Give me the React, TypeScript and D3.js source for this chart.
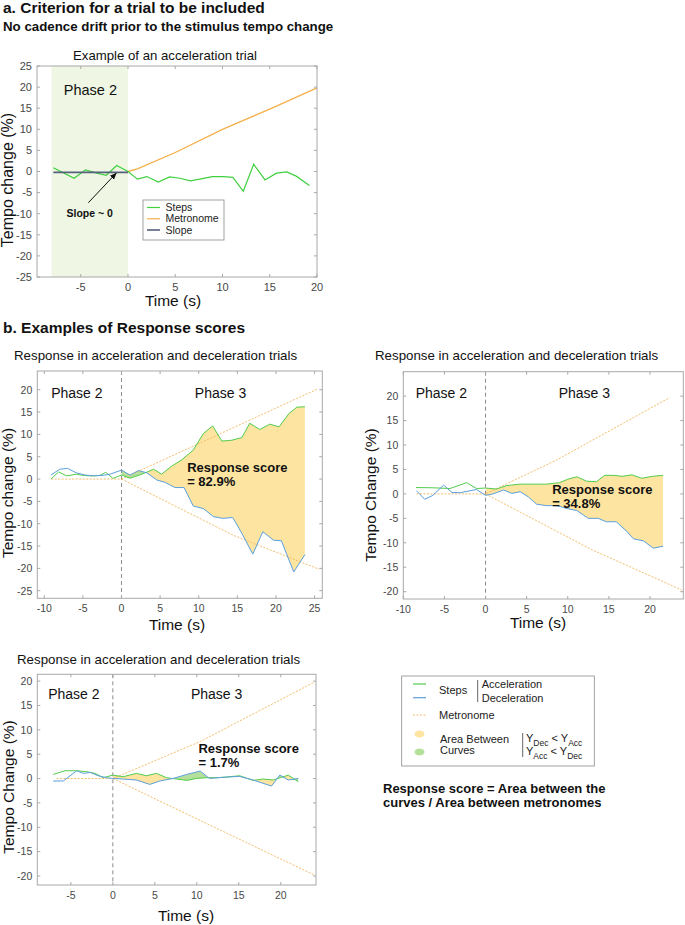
import * as d3 from 'd3'

type Pt = [number, number]

const FONT = '"Liberation Sans", Arial, Helvetica, sans-serif'

// ---- panel a: example of an acceleration trial ----
const topSteps: Pt[] = [
  [-7.9, 0.9], [-5.7, -1.6], [-4.5, 0.4], [-3.3, -0.4], [-2.3, -0.9], [-1.2, 1.4], [0, 0],
  [1.0, -1.8], [2.0, -1.2], [3.2, -2.5], [4.4, -1.3], [5.5, -1.6], [6.6, -2.2], [7.6, -1.8],
  [8.9, -1.2], [10.1, -1.2], [11.1, -1.4], [12.2, -4.7], [13.3, 1.7], [14.5, -2.0],
  [15.7, -0.4], [16.8, -0.1], [17.8, -1.1], [19.2, -3.3],
]
const topMetronome: Pt[] = [[0, 0], [1, 0.6], [5, 4.5], [10, 10], [15, 14.8], [20, 19.8]]
const topSlope: Pt[] = [[-7.9, -0.2], [0, -0.2]]
const topPhase2: [number, number] = [-8.1, 0]
const topXTicks = [-5, 0, 5, 10, 15, 20]
const topYTicks = [25, 20, 15, 10, 5, 0, -5, -10, -15, -20, -25]

// ---- panel b1: response score 82.9% ----
const b1Acc: Pt[] = [
  [-9.14, 0], [-8.15, 1.6], [-7.07, 0.7], [-5.86, 1.1], [-4.91, 0.8], [-3.62, 0.7], [-2.84, 0.8],
  [-2.03, 1.5], [-1.12, 0.15], [0, 0.9], [1.12, 0.2], [2.33, 0.9], [3.36, 1.6], [4.14, 2.2],
  [5.2, 1.1], [6.5, 2.9], [7.8, 4.3], [9.3, 6.5], [10.6, 10.2], [11.8, 11.9], [13.0, 8.5],
  [14.3, 8.7], [15.6, 9.3], [16.6, 12.5], [17.9, 11.1], [19.2, 12.3], [20.4, 11.7],
  [21.7, 14.7], [22.7, 16.1], [23.75, 16.2],
]
const b1Dec: Pt[] = [
  [-9.14, 0.9], [-8.0, 2.2], [-6.98, 2.4], [-5.86, 1.4], [-4.7, 0.9], [-3.62, 0.75], [-2.54, 0.8],
  [-1.47, 1.1], [0, 2.0], [1.12, 0.9], [2.2, 1.9], [3.28, 1.4], [4.57, -0.2], [5.65, -0.75],
  [6.94, -1.9], [8.1, -1.9], [9.3, -6.05], [10.6, -6.6], [11.9, -8.4], [13.1, -8.8],
  [14.4, -8.6], [15.6, -12.2], [17.0, -16.8], [18.3, -11.8], [19.7, -13.7], [20.7, -13.8],
  [22.3, -20.8], [23.75, -16.9],
]
const b1MetUp: Pt[] = [[-9.1, 0], [0, 0], [25.3, 20.1]]
const b1MetDown: Pt[] = [[0, 0], [14.5, -12.6], [25.6, -20.2]]
const b1XTicks = [-10, -5, 0, 5, 10, 15, 20, 25]
const b1YTicks = [20, 15, 10, 5, 0, -5, -10, -15, -20, -25]

// ---- panel b2: response score 34.8% ----
const b2Acc: Pt[] = [
  [-8.46, 1.3], [-6.36, 1.25], [-4.33, 1.1], [-2.3, 2.3], [-1.09, 1.1], [0, 1.2], [1.35, 1.0],
  [2.55, 1.7], [4.2, 2.0], [5.8, 2.0], [7.4, 2.0], [9.0, 2.3], [10.0, 3.0], [11.1, 3.5],
  [12.3, 2.6], [13.5, 2.5], [14.5, 3.8], [15.6, 3.8], [16.6, 3.6], [17.8, 3.9], [19.0, 3.2],
  [20.3, 3.6], [21.6, 3.8],
]
const b2Dec: Pt[] = [
  [-8.4, 0.65], [-7.4, -1.1], [-6.4, -0.3], [-5.1, 1.8], [-4.1, 0.3], [-3.1, 0.24], [-1.1, 0.9],
  [0, -0.3], [0.9, 0], [2.2, 0.8], [3.2, 0.1], [4.2, 0.45], [5.2, -0.6], [6.2, -2.1],
  [7.4, -2.4], [8.7, -2.4], [9.9, -3.0], [11.1, -3.4], [12.5, -5.0], [13.7, -5.0],
  [14.7, -5.7], [15.9, -5.7], [17.2, -7.7], [18.0, -9.2], [19.2, -9.6], [20.4, -11.1],
  [21.6, -10.7],
]
const b2MetUp: Pt[] = [[-8.4, 0], [0, 0], [8.6, 6.9], [22.4, 19.7]]
const b2MetDown: Pt[] = [[0, 0], [12.9, -11.4], [23.85, -19.65]]
const b2XTicks = [-10, -5, 0, 5, 10, 15, 20]
const b2YTicks = [20, 15, 10, 5, 0, -5, -10, -15, -20]

// ---- panel b3: response score 1.7% ----
const b3Acc: Pt[] = [
  [-7.1, 0.85], [-5.7, 1.6], [-4.3, 1.6], [-3.1, 1.4], [-2.1, 1.05], [-1.15, 0.17], [0, 0.7],
  [1.23, 0.38], [2.8, 1.06], [4.0, 0.58], [5.2, 1.06], [6.4, 0.17], [7.6, -0.1], [8.8, -0.38],
  [10.0, 0.03], [11.15, 0.17], [12.3, 0.17], [13.5, 0.3], [15.1, 0.58], [16.7, -0.38],
  [17.9, -0.1], [19.1, -0.3], [20.0, 0.2], [20.9, 0.7], [22.1, -0.65],
]
const b3Dec: Pt[] = [
  [-7.1, -0.5], [-5.9, -0.5], [-4.3, 1.6], [-3.5, 1.06], [-2.7, 1.26], [-1.75, 0.58],
  [-0.75, 0.17], [0, 0.03], [1.23, -0.1], [2.8, -0.3], [4.4, -1.2], [5.6, -0.5], [7.2, 0.03],
  [8.8, 0.85], [10.4, 1.54], [11.5, 0.03], [13.5, 0.3], [15.1, 0.44], [16.7, -0.3],
  [18.9, -1.54], [19.9, 0.72], [20.9, -0.3], [22.1, 0.03],
]
const b3MetUp: Pt[] = [[-6.7, 0], [0, 0], [10.4, 7.6], [23.9, 19.7]]
const b3MetDown: Pt[] = [[0, 0], [10.4, -8.6], [24.0, -19.8]]
const b3XTicks = [-5, 0, 5, 10, 15, 20]
const b3YTicks = [20, 15, 10, 5, 0, -5, -10, -15, -20]

const C = {
  axis: '#a8a8a8',
  tick: '#484848',
  acc: '#52cc4c',
  dec: '#5d9fdc',
  met: '#f5b04a',
  metDash: '#f4bd6a',
  fillY: '#fde4a0',
  fillG: '#b4e09c',
  shade: '#eff6e3',
  slope: '#56617c',
}

type Box = { x0: number; x1: number; y0: number; y1: number }
type Scale = d3.ScaleLinear<number, number>

function Frame({ box, x, y, xTicks, yTicks, fs = 10.5 }: {
  box: Box; x: Scale; y: Scale; xTicks: number[]; yTicks: number[]; fs?: number
}) {
  const tl = 3
  return (
    <g>
      <rect x={box.x0} y={box.y0} width={box.x1 - box.x0} height={box.y1 - box.y0}
        fill="none" stroke={C.axis} strokeWidth={1} />
      {xTicks.map((t) => (
        <g key={'x' + t}>
          <line x1={x(t)} x2={x(t)} y1={box.y1} y2={box.y1 - tl} stroke={C.axis} />
          <line x1={x(t)} x2={x(t)} y1={box.y0} y2={box.y0 + tl} stroke={C.axis} />
          <text x={x(t)} y={box.y1 + 14} textAnchor="middle" fontSize={fs} fill={C.tick}>{t}</text>
        </g>
      ))}
      {yTicks.map((t) => (
        <g key={'y' + t}>
          <line x1={box.x0} x2={box.x0 + tl} y1={y(t)} y2={y(t)} stroke={C.axis} />
          <line x1={box.x1} x2={box.x1 - tl} y1={y(t)} y2={y(t)} stroke={C.axis} />
          <text x={box.x0 - 5} y={y(t) + 3.8} textAnchor="end" fontSize={fs} fill={C.tick}>{t}</text>
        </g>
      ))}
    </g>
  )
}

function TopPanel() {
  const box: Box = { x0: 37, x1: 317, y0: 66, y1: 277 }
  const x = d3.scaleLinear().domain([-9.63, 20]).range([box.x0, box.x1])
  const y = d3.scaleLinear().domain([-25, 25]).range([box.y1, box.y0])
  const line = d3.line<Pt>().x((d) => x(d[0])).y((d) => y(d[1]))
  return (
    <g>
      <rect x={x(topPhase2[0])} y={box.y0} width={x(topPhase2[1]) - x(topPhase2[0])}
        height={box.y1 - box.y0} fill={C.shade} />
      <path d={line(topMetronome) ?? ''} fill="none" stroke={C.met} strokeWidth={1.3} />
      <path d={line(topSteps) ?? ''} fill="none" stroke="#3fd03f" strokeWidth={1.2} />
      <path d={line(topSlope) ?? ''} fill="none" stroke={C.slope} strokeWidth={1.6} />
      <line x1={x(-4.2)} y1={y(-7.4)} x2={x(-1.25)} y2={y(-0.4)} stroke="#111" strokeWidth={1}
        markerEnd="url(#arrowhead)" />
      <text x={x(-4.05)} y={y(-10.7)} textAnchor="middle" fontSize={10.5} fontWeight="bold" fill="#111">
        Slope ~ 0
      </text>
      <Frame box={box} x={x} y={y} xTicks={topXTicks} yTicks={topYTicks} fs={11} />
      <text x={x(-6.8)} y={y(18.2)} fontSize={14.5} fill="#111">Phase 2</text>
      <text x={165} y={60} textAnchor="middle" fontSize={13.2} fill="#111">Example of an acceleration trial</text>
      <text transform="translate(13,180) rotate(-90)" textAnchor="middle" fontSize={16} fill="#111">
        Tempo change (%)
      </text>
      <text x={173} y={305.5} textAnchor="middle" fontSize={15.5} fill="#111">Time (s)</text>
      {/* legend */}
      <rect x={143} y={200} width={81} height={40} fill="#fff" stroke="#8a8a8a" strokeWidth={0.8} />
      <line x1={147} x2={160} y1={207.5} y2={207.5} stroke="#3fd03f" strokeWidth={1.2} />
      <line x1={147} x2={160} y1={218.8} y2={218.8} stroke={C.met} strokeWidth={1.2} />
      <line x1={147} x2={160} y1={230} y2={230} stroke={C.slope} strokeWidth={1.6} />
      <text x={165.5} y={211} fontSize={10.5} fill="#222">Steps</text>
      <text x={165.5} y={222.3} fontSize={10.5} fill="#222">Metronome</text>
      <text x={165.5} y={233.5} fontSize={10.5} fill="#222">Slope</text>
    </g>
  )
}

type RespProps = {
  id: string
  box: Box
  xDomain: [number, number]
  yDomain: [number, number]
  xTicks: number[]
  yTicks: number[]
  acc: Pt[]
  dec: Pt[]
  metUp: Pt[]
  metDown: Pt[]
  title: [number, number]
  yLabel: string
  yLabelPos: [number, number]
  xLabelPos: [number, number]
  phase2: Pt
  phase3: Pt
  score: string
  scorePos: Pt
}

function ResponsePanel(p: RespProps) {
  const { box } = p
  const x = d3.scaleLinear().domain(p.xDomain).range([box.x0, box.x1])
  const y = d3.scaleLinear().domain(p.yDomain).range([box.y1, box.y0])
  const line = d3.line<Pt>().x((d) => x(d[0])).y((d) => y(d[1]))
  const accR = p.acc.filter((d) => d[0] >= 0)
  const decR = p.dec.filter((d) => d[0] >= 0)
  // polygon between the two step curves, split by colour with clip paths on the deceleration curve
  const between = (line([...accR, ...decR.slice().reverse()]) ?? '') + 'Z'
  const aboveDec = d3.area<Pt>().x((d) => x(d[0])).y0(box.y0 - 50).y1((d) => y(d[1]))(decR) ?? ''
  const belowDec = d3.area<Pt>().x((d) => x(d[0])).y0((d) => y(d[1])).y1(box.y1 + 50)(decR) ?? ''
  return (
    <g>
      <defs>
        <clipPath id={p.id + '-above'}><path d={aboveDec} /></clipPath>
        <clipPath id={p.id + '-below'}><path d={belowDec} /></clipPath>
      </defs>
      <path d={between} fill={C.fillY} clipPath={`url(#${p.id}-above)`} />
      <path d={between} fill={C.fillG} clipPath={`url(#${p.id}-below)`} />
      <line x1={x(0)} x2={x(0)} y1={box.y0} y2={box.y1} stroke="#8c8c8c" strokeDasharray="4,3" />
      <path d={line(p.metUp) ?? ''} fill="none" stroke={C.metDash} strokeWidth={1} strokeDasharray="2,1.5" />
      <path d={line(p.metDown) ?? ''} fill="none" stroke={C.metDash} strokeWidth={1} strokeDasharray="2,1.5" />
      <path d={line(p.acc) ?? ''} fill="none" stroke={C.acc} strokeWidth={1} />
      <path d={line(p.dec) ?? ''} fill="none" stroke={C.dec} strokeWidth={1} />
      <Frame box={box} x={x} y={y} xTicks={p.xTicks} yTicks={p.yTicks} />
      <text x={x(p.phase2[0])} y={y(p.phase2[1])} fontSize={14} fill="#111">Phase 2</text>
      <text x={x(p.phase3[0])} y={y(p.phase3[1])} fontSize={14} fill="#111">Phase 3</text>
      <text x={x(p.scorePos[0])} y={y(p.scorePos[1])} fontSize={13} fontWeight="bold" fill="#111">
        <tspan>Response score</tspan>
        <tspan x={x(p.scorePos[0])} dy={14}>{'= ' + p.score}</tspan>
      </text>
      <text x={p.title[0]} y={p.title[1]} fontSize={13.3} fill="#111">
        Response in acceleration and deceleration trials
      </text>
      <text transform={`translate(${p.yLabelPos[0]},${p.yLabelPos[1]}) rotate(-90)`} textAnchor="middle"
        fontSize={15.5} fill="#111">{p.yLabel}</text>
      <text x={p.xLabelPos[0]} y={p.xLabelPos[1]} textAnchor="middle" fontSize={15.5} fill="#111">Time (s)</text>
    </g>
  )
}

function Legend() {
  const sub = { fontSize: 8.5 }
  return (
    <g fontSize={11} fill="#222">
      <rect x={401.7} y={676} width={192.6} height={90} fill="#fff" stroke="#8a8a8a" strokeWidth={0.8} />
      <line x1={413} x2={426} y1={684} y2={684} stroke={C.acc} strokeWidth={1.2} />
      <line x1={413} x2={426} y1={697.7} y2={697.7} stroke={C.dec} strokeWidth={1.2} />
      <text x={439} y={694}>Steps</text>
      <line x1={477.7} x2={477.7} y1={680} y2={702} stroke="#555" strokeWidth={0.9} />
      <text x={481.7} y={688}>Acceleration</text>
      <text x={481.7} y={702}>Deceleration</text>
      <line x1={413} x2={426} y1={715} y2={715} stroke={C.metDash} strokeDasharray="2,1.5" />
      <text x={439} y={719}>Metronome</text>
      <ellipse cx={419.5} cy={734} rx={5} ry={3.5} fill={C.fillY} />
      <ellipse cx={419.5} cy={752} rx={5} ry={3.5} fill={C.fillG} />
      <text x={440} y={743}>Area Between</text>
      <text x={440} y={754}>Curves</text>
      <line x1={522.7} x2={522.7} y1={733} y2={757} stroke="#555" strokeWidth={0.9} />
      <text x={526} y={742}>
        Y<tspan dy={3.5} {...sub}>Dec</tspan><tspan dy={-3.5}> &lt; Y</tspan><tspan dy={3.5} {...sub}>Acc</tspan>
      </text>
      <text x={526} y={755}>
        Y<tspan dy={3.5} {...sub}>Acc</tspan><tspan dy={-3.5}> &lt; Y</tspan><tspan dy={3.5} {...sub}>Dec</tspan>
      </text>
    </g>
  )
}

export default function App() {
  return (
    <svg width={685} height={925} style={{ position: 'absolute', left: 0, top: 0, background: '#fff' }}
      fontFamily={FONT}>
      <defs>
        <marker id="arrowhead" viewBox="0 0 10 10" refX={9} refY={5} markerWidth={7} markerHeight={7}
          orient="auto-start-reverse">
          <path d="M0,1 L10,5 L0,9 z" fill="#111" />
        </marker>
      </defs>
      <rect width={685} height={925} fill="#fff" />
      <text x={3} y={13} fontSize={15.5} fontWeight="bold" fill="#111">a. Criterion for a trial to be included</text>
      <text x={3} y={30.5} fontSize={13.3} fontWeight="bold" fill="#111">
        No cadence drift prior to the stimulus tempo change
      </text>
      <TopPanel />
      <text x={3} y={333} fontSize={15.5} fontWeight="bold" fill="#111">b. Examples of Response scores</text>
      <ResponsePanel
        id="b1"
        box={{ x0: 37.3, x1: 322.3, y0: 371, y1: 598.3 }}
        xDomain={[-10.9, 26]}
        yDomain={[-26.7, 24.2]}
        xTicks={b1XTicks}
        yTicks={b1YTicks}
        acc={b1Acc}
        dec={b1Dec}
        metUp={b1MetUp}
        metDown={b1MetDown}
        title={[14, 360]}
        yLabel="Tempo change (%)"
        yLabelPos={[13, 493]}
        xLabelPos={[177, 630]}
        phase2={[-9.1, 18.2]}
        phase3={[9.5, 18.2]}
        score="82.9%"
        scorePos={[8.5, 1.5]}
      />
      <ResponsePanel
        id="b2"
        box={{ x0: 403.3, x1: 683.3, y0: 371.7, y1: 599 }}
        xDomain={[-10, 24.05]}
        yDomain={[-21.5, 25]}
        xTicks={b2XTicks}
        yTicks={b2YTicks}
        acc={b2Acc}
        dec={b2Dec}
        metUp={b2MetUp}
        metDown={b2MetDown}
        title={[375, 360]}
        yLabel="Tempo Change (%)"
        yLabelPos={[376, 495]}
        xLabelPos={[538, 628]}
        phase2={[-8.5, 19.6]}
        phase3={[8.9, 19.6]}
        score="34.8%"
        scorePos={[8.1, 0.06]}
      />
      <ResponsePanel
        id="b3"
        box={{ x0: 37.3, x1: 316, y0: 674.3, y1: 885 }}
        xDomain={[-9, 24.2]}
        yDomain={[-21.85, 21.4]}
        xTicks={b3XTicks}
        yTicks={b3YTicks}
        acc={b3Acc}
        dec={b3Dec}
        metUp={b3MetUp}
        metDown={b3MetDown}
        title={[17, 664]}
        yLabel="Tempo Change (%)"
        yLabelPos={[13.5, 787]}
        xLabelPos={[186, 921]}
        phase2={[-7.7, 16.3]}
        phase3={[9.3, 16.3]}
        score="1.7%"
        scorePos={[10.2, 5.3]}
      />
      <Legend />
      <text x={383} y={793} fontSize={13} fontWeight="bold" fill="#111">Response score = Area between the</text>
      <text x={383} y={806.5} fontSize={13} fontWeight="bold" fill="#111">curves / Area between metronomes</text>
    </svg>
  )
}
